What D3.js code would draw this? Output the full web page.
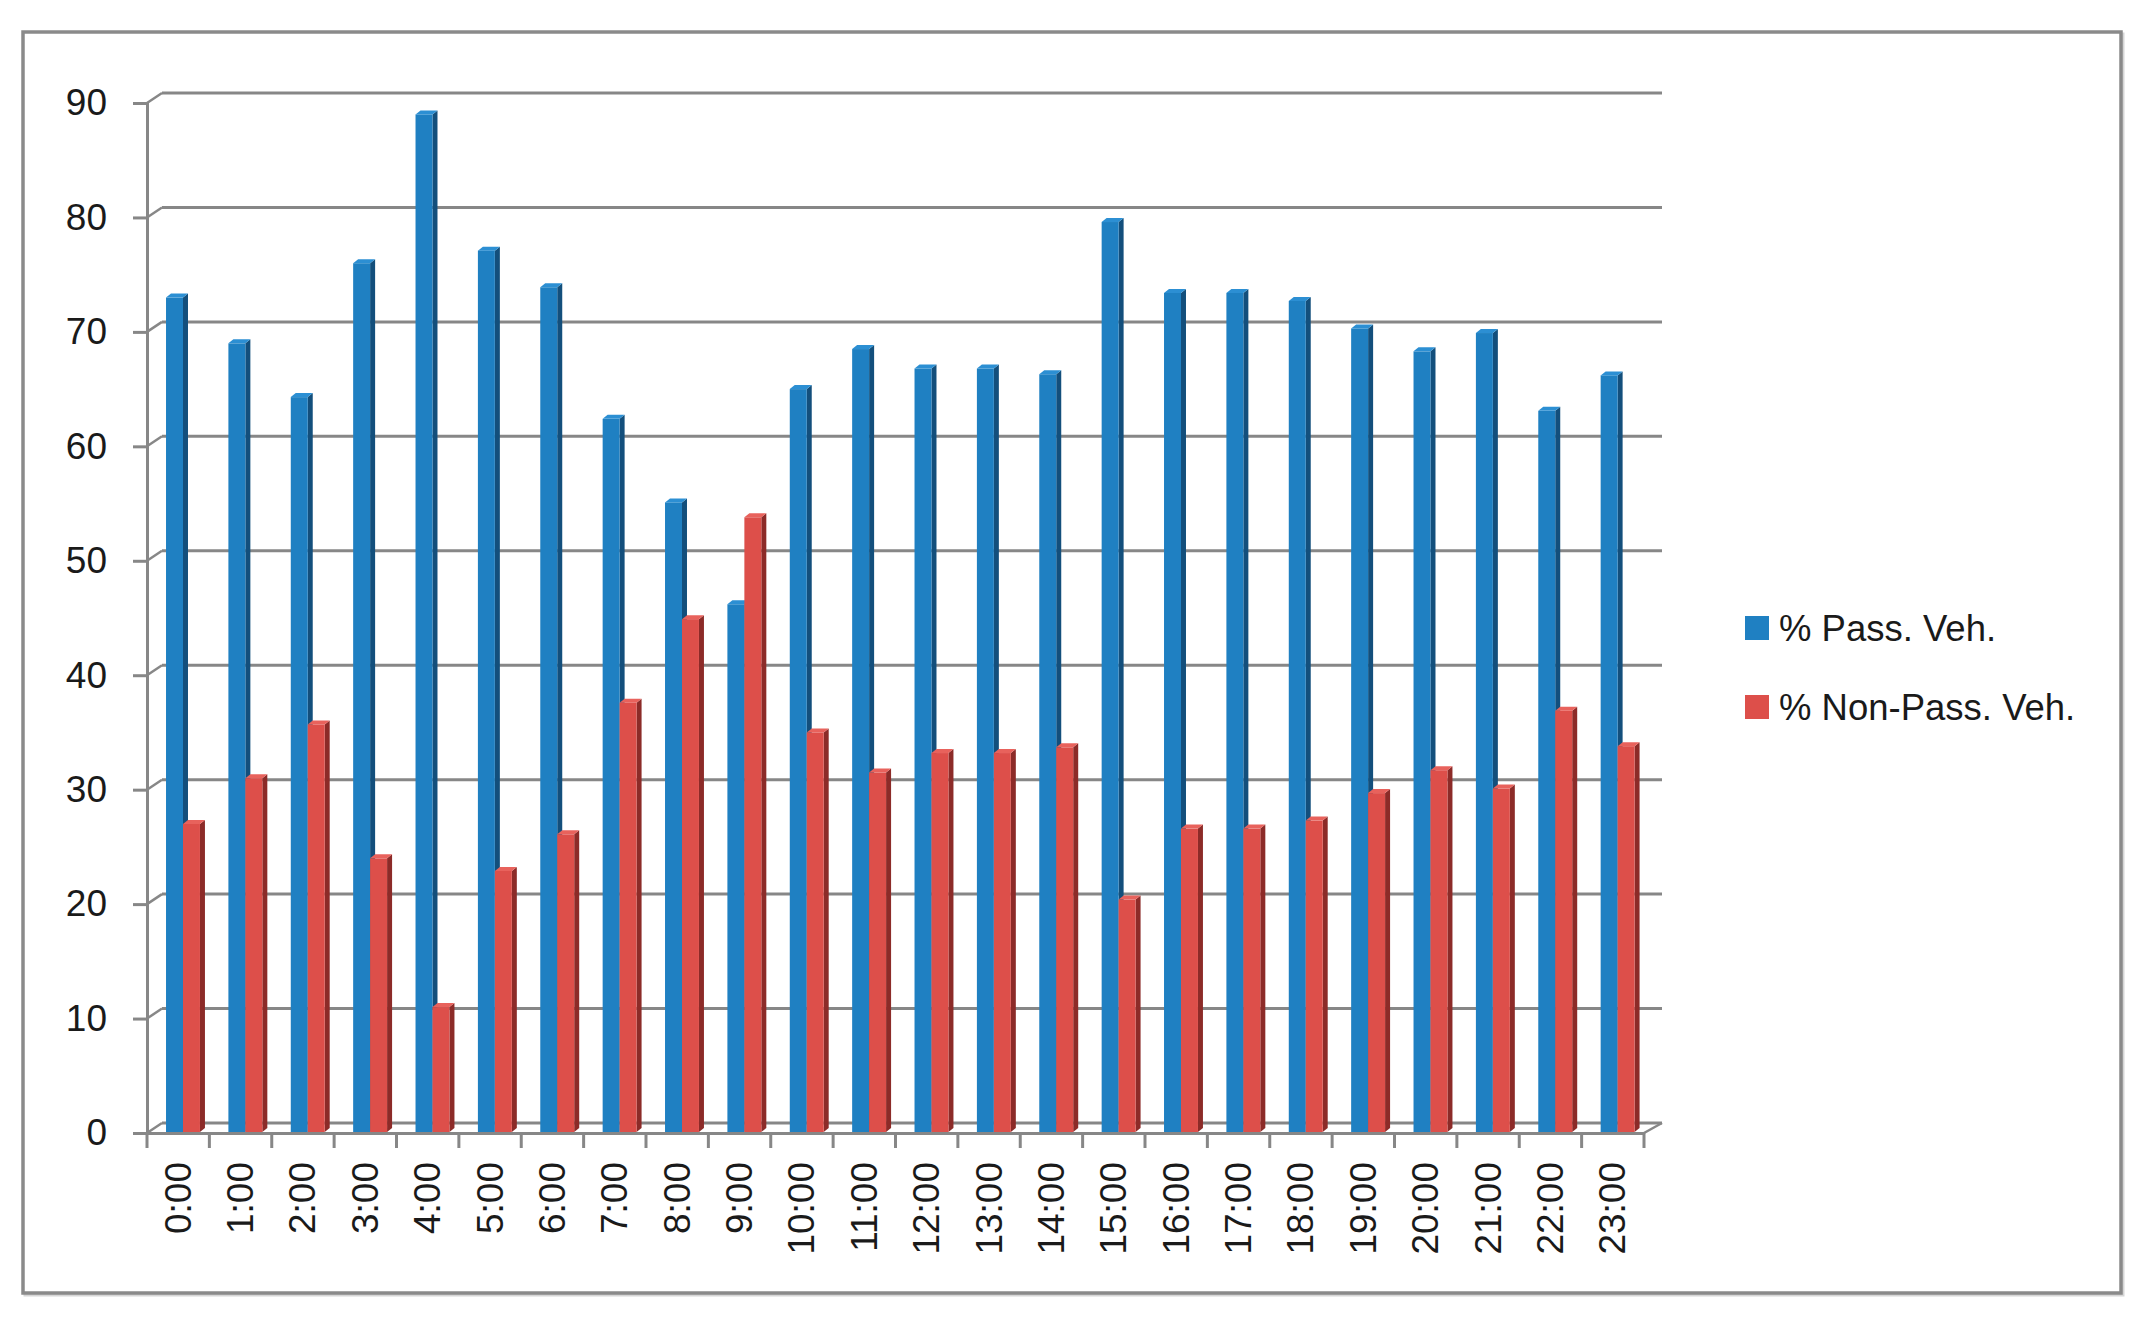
<!DOCTYPE html>
<html>
<head>
<meta charset="utf-8">
<script src="https://cdn.jsdelivr.net/npm/d3@7"></script>
<style>
  body { margin: 0; background: #fff; }
  text { font-family: "Liberation Sans", Arial, sans-serif; fill: #1a1a1a; }
</style>
</head>
<body>
<svg id="chart" width="2141" height="1317"></svg>
<script>

var hours = ["0:00","1:00","2:00","3:00","4:00","5:00","6:00","7:00","8:00","9:00","10:00","11:00",
             "12:00","13:00","14:00","15:00","16:00","17:00","18:00","19:00","20:00","21:00","22:00","23:00"]
var pass_veh = [73.0, 69.0, 64.3, 76.0, 89.0, 77.1, 73.9, 62.4, 55.1, 46.2, 65.0, 68.5,
                66.8, 66.8, 66.3, 79.6, 73.4, 73.4, 72.7, 70.3, 68.3, 69.9, 63.1, 66.2]
var non_pass_veh = [27.0, 31.0, 35.7, 24.0, 11.0, 22.9, 26.1, 37.6, 44.9, 53.8, 35.0, 31.5,
                    33.2, 33.2, 33.7, 20.4, 26.6, 26.6, 27.3, 29.7, 31.7, 30.1, 36.9, 33.8]
var y_ticks = [0, 10, 20, 30, 40, 50, 60, 70, 80, 90]
var series_names = ["% Pass. Veh.", "% Non-Pass. Veh."]

var svg = d3.select("#chart")

// outer frame
svg.append("rect")
  .attr("x", 25).attr("y", 34).attr("width", 2098).attr("height", 1261)
  .attr("fill", "none").attr("stroke", "#d6d6d6").attr("stroke-width", 3)
svg.append("rect")
  .attr("x", 23).attr("y", 32).attr("width", 2098).attr("height", 1261)
  .attr("fill", "#fff").attr("stroke", "#8a8a8a").attr("stroke-width", 3.5)

var x = d3.scaleBand().domain(hours).range([147, 1644]).padding(0)
var y = d3.scaleLinear().domain([0, 90]).range([1133, 103])

var depth_dx = 15, depth_dy = -10
var grid_color = "#878787"

// back wall gridlines + diagonal connectors
var grid = svg.append("g").attr("id", "grid")
y_ticks.forEach(function(v){
  grid.append("line")
    .attr("x1", 147 + depth_dx).attr("x2", 1644 + depth_dx + 3)
    .attr("y1", y(v) + depth_dy).attr("y2", y(v) + depth_dy)
    .attr("stroke", grid_color).attr("stroke-width", 3)
  grid.append("line")
    .attr("x1", 147).attr("x2", 147 + depth_dx)
    .attr("y1", y(v)).attr("y2", y(v) + depth_dy)
    .attr("stroke", grid_color).attr("stroke-width", 2.5)
})

// floor right edge
grid.append("line")
  .attr("x1", 1644).attr("y1", y(0))
  .attr("x2", 1644 + depth_dx + 3).attr("y2", y(0) + depth_dy)
  .attr("stroke", grid_color).attr("stroke-width", 2.5)

// y axis (front)
var yAxis = d3.axisLeft(y).tickValues(y_ticks).tickSize(14).tickPadding(26)
var yg = svg.append("g").attr("transform", "translate(147,0)").call(yAxis)
yg.select(".domain").attr("stroke", grid_color).attr("stroke-width", 3)
yg.selectAll(".tick line").attr("stroke", grid_color).attr("stroke-width", 3)
yg.selectAll(".tick text")
  .attr("font-size", 37).attr("fill", "#1a1a1a")
  .attr("font-family", "Liberation Sans, Arial, sans-serif")

// x axis (front)
var xAxis = d3.axisBottom(x).tickSize(0).tickPadding(0)
var xg = svg.append("g").attr("transform", "translate(0,1133)").call(xAxis)
xg.select(".domain").attr("stroke", grid_color).attr("stroke-width", 3)
xg.selectAll(".tick text")
  .attr("font-size", 37).attr("fill", "#1a1a1a")
  .attr("font-family", "Liberation Sans, Arial, sans-serif")
  .attr("text-anchor", "end")
  .attr("dominant-baseline", "central")
  .attr("transform", "translate(0,29) rotate(-90)")
  .attr("y", 0).attr("dy", null)

// category separator ticks
svg.append("g").selectAll("line")
  .data(d3.range(hours.length + 1))
  .enter().append("line")
    .attr("x1", function(i){ return 147 + i * x.bandwidth() })
    .attr("x2", function(i){ return 147 + i * x.bandwidth() })
    .attr("y1", 1133).attr("y2", 1148)
    .attr("stroke", grid_color).attr("stroke-width", 3)

// 3D-ish bars
var bw = x.bandwidth()
var bar_w = bw * 0.272
var bar_off = bw * 0.305
var sx = 5, sy = -4
var colors = [
  { front: "#1f80c2", side: "#134f7c", top: "#2c8fd3" },
  { front: "#dd4f4a", side: "#8c2b28", top: "#e8625c" }
]

function draw_series(values, k){
  var g = svg.append("g").attr("id", "series-" + k)
  var c = colors[k]
  values.forEach(function(v, i){
    var xl = x(hours[i]) + bar_off + k * bar_w
    var xr = xl + bar_w
    var yt = y(v)
    var yb = y(0) - 1
    g.append("polygon")
      .attr("fill", c.side)
      .attr("points", [[xr, yt], [xr + sx, yt + sy], [xr + sx, yb + sy], [xr, yb]].join(" "))
    g.append("rect")
      .attr("fill", c.front)
      .attr("x", xl).attr("y", yt).attr("width", bar_w).attr("height", yb - yt)
    g.append("polygon")
      .attr("fill", c.top)
      .attr("points", [[xl, yt], [xl + sx, yt + sy], [xr + sx, yt + sy], [xr, yt]].join(" "))
  })
}

draw_series(pass_veh, 0)
draw_series(non_pass_veh, 1)

// legend
var legend = svg.append("g").attr("id", "legend")
series_names.forEach(function(name, k){
  legend.append("rect")
    .attr("x", 1745).attr("y", 616 + k * 79)
    .attr("width", 24).attr("height", 24)
    .attr("fill", colors[k].front)
  legend.append("text")
    .attr("x", 1779).attr("y", 641 + k * 79)
    .attr("font-size", 36.5)
    .text(name)
})

</script>
</body>
</html>
